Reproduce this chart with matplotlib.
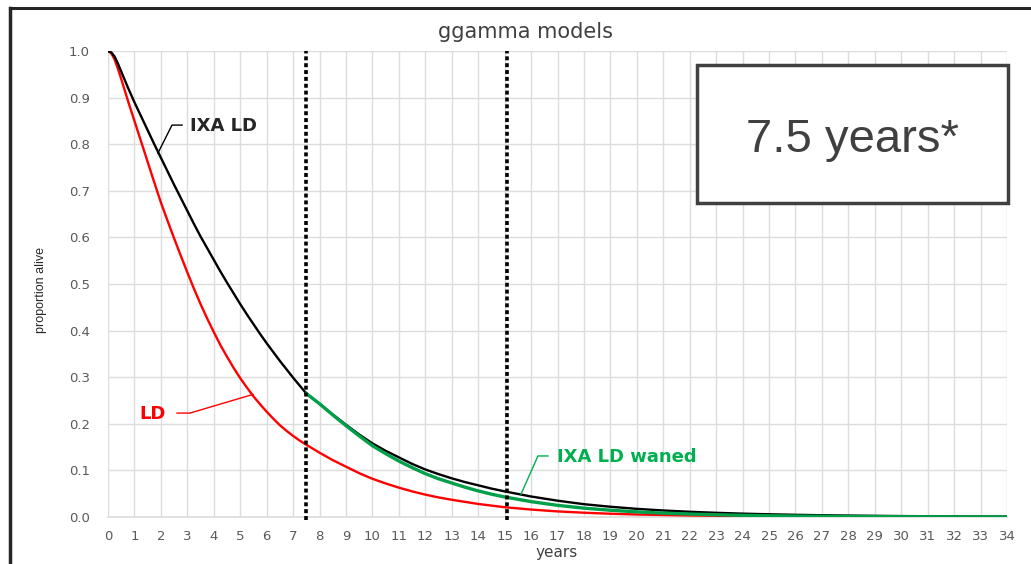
#!/usr/bin/env python3
"""ggamma survival models: LD vs IXA LD, with waning after 7.5 years."""

import matplotlib
matplotlib.use('Agg')
import matplotlib.pyplot as plt
from matplotlib.lines import Line2D
from matplotlib.patches import Rectangle

# --- data ------------------------------------------------------------------
ixa_years = [0, 0.125, 0.25, 0.375, 0.5, 0.75, 1, 1.25, 1.5, 1.75, 2, 2.25,
             2.5, 2.75, 3, 3.25, 3.5, 3.75, 4, 4.25, 4.5, 4.75, 5, 5.25, 5.5,
             5.75, 6, 6.25, 6.5, 6.75, 7, 7.25, 7.5,
             8, 8.5, 9, 9.5, 10, 10.5, 11, 11.5, 12, 12.5, 13, 13.5, 14, 14.5,
             15, 16, 17, 18, 19, 20, 21, 22, 23, 24, 25, 26, 27, 28, 29, 30,
             31, 32, 33, 34]
ixa_alive = [1.0, 0.997, 0.988, 0.973, 0.956, 0.922, 0.89, 0.86, 0.83, 0.8,
             0.771, 0.742, 0.713, 0.685, 0.657, 0.629, 0.602, 0.577, 0.552,
             0.527, 0.503, 0.48, 0.457, 0.435, 0.414, 0.393, 0.373, 0.354,
             0.335, 0.317, 0.299, 0.282, 0.265,
             0.243, 0.22, 0.198, 0.177, 0.158, 0.142, 0.128, 0.114, 0.102,
             0.092, 0.083, 0.075, 0.068, 0.061, 0.055, 0.044, 0.035, 0.0275,
             0.022, 0.0175, 0.014, 0.0112, 0.009, 0.0072, 0.0058, 0.0047,
             0.0038, 0.0031, 0.0025, 0.002, 0.0016, 0.0013, 0.001, 0.0008]

ld_years = [0, 0.125, 0.25, 0.375, 0.5, 0.75, 1, 1.25, 1.5, 1.75, 2, 2.25,
            2.5, 2.75, 3, 3.25, 3.5, 3.75, 4, 4.25, 4.5, 4.75, 5, 5.25, 5.5,
            5.75, 6, 6.25, 6.5, 6.75, 7, 7.25, 7.5,
            8, 8.5, 9, 9.5, 10, 10.5, 11, 11.5, 12, 12.5, 13, 14, 15, 16, 17,
            18, 19, 20, 22, 24, 26, 28, 30, 34]
ld_alive = [1.0, 0.995, 0.982, 0.962, 0.94, 0.894, 0.85, 0.806, 0.762, 0.718,
            0.675, 0.636, 0.598, 0.561, 0.525, 0.49, 0.457, 0.426, 0.397,
            0.369, 0.344, 0.32, 0.298, 0.278, 0.259, 0.242, 0.226, 0.211,
            0.197, 0.185, 0.174, 0.164, 0.155,
            0.138, 0.122, 0.108, 0.094, 0.082, 0.072, 0.063, 0.055, 0.048,
            0.042, 0.037, 0.028, 0.021, 0.016, 0.012, 0.0092, 0.007, 0.0054,
            0.0033, 0.002, 0.0012, 0.0007, 0.0004, 0.0002]

waned_years = [7.5, 8, 8.5, 9, 9.5, 10, 10.5, 11, 11.5, 12, 12.5, 13, 13.5,
               14, 14.5, 15, 16, 17, 18, 19, 20, 21, 22, 23, 24, 25, 26, 27,
               28, 30, 32, 34]
waned_alive = [0.265, 0.243, 0.219, 0.196, 0.174, 0.153, 0.136, 0.12, 0.106,
               0.093, 0.082, 0.073, 0.064, 0.056, 0.049, 0.043, 0.033, 0.025,
               0.019, 0.0145, 0.011, 0.0083, 0.0063, 0.0048, 0.0036, 0.0027,
               0.002, 0.0015, 0.0011, 0.0006, 0.0003, 0.0002]

divider_years = [7.5, 15.1]
x_ticks = list(range(0, 35))
y_ticks = [0.0, 0.1, 0.2, 0.3, 0.4, 0.5, 0.6, 0.7, 0.8, 0.9, 1.0]

RED = '#ff0000'
GREEN_LINE = '#00a04a'
GREEN_TEXT = '#00b050'
GREY_TEXT = '#404040'
TICK_TEXT = '#595959'
GRID = '#dcdcdc'

W, H = 1031, 564
fig = plt.figure(figsize=(W / 100, H / 100), dpi=100)
fig.patch.set_facecolor('white')

# slide frame (left and top edges)
fig.add_artist(Line2D([9.5 / W, 9.5 / W], [0, 1 - 7.5 / H], color='#262626', lw=2.5))
fig.add_artist(Line2D([9.5 / W, 1], [1 - 7.5 / H, 1 - 7.5 / H], color='#262626', lw=2.2))

ax = fig.add_axes([108 / W, 1 - 517 / H, 899 / W, 466 / H])
ax.set_xlim(0, 34)
ax.set_ylim(0, 1.0)

ax.set_xticks(x_ticks)
ax.set_xticklabels([str(t) for t in x_ticks])
ax.set_yticks(y_ticks)
ax.set_yticklabels([f'{t:.1f}' for t in y_ticks])
ax.tick_params(axis='both', length=0, labelsize=9.5, labelcolor=TICK_TEXT)
ax.tick_params(axis='x', pad=9)
ax.tick_params(axis='y', pad=13)
ax.grid(True, color=GRID, lw=1)
ax.set_axisbelow(True)
for side in ('top', 'right', 'left'):
    ax.spines[side].set_visible(False)
ax.spines['bottom'].set_color(GRID)
ax.spines['bottom'].set_linewidth(1.2)

# curves
ax.plot(ld_years, ld_alive, color=RED, lw=1.7, zorder=3)
ax.plot(ixa_years, ixa_alive, color='black', lw=1.7, zorder=4)
ax.plot(waned_years, waned_alive, color=GREEN_LINE, lw=2.4, zorder=5)

# dotted dividers
for xv in divider_years:
    ax.plot([xv, xv], [-0.006, 1.0], color='black', lw=2.6,
            linestyle=(0, (1.1, 0.8)), zorder=6, clip_on=False)

# labels with leader lines
ax.plot([2.80, 2.42, 1.89], [0.841, 0.841, 0.781], color='black', lw=1.0, zorder=7)
ax.text(3.1, 0.839, 'IXA LD', color='#262626', fontsize=13, fontweight='bold',
        va='center', ha='left', zorder=7)

ax.plot([2.61, 3.10, 5.48], [0.223, 0.223, 0.263], color=RED, lw=1.0, zorder=7)
ax.text(1.17, 0.221, 'LD', color=RED, fontsize=13, fontweight='bold',
        va='center', ha='left', zorder=7)

ax.plot([16.64, 16.26, 15.62], [0.131, 0.131, 0.049], color=GREEN_TEXT, lw=1.0, zorder=7)
ax.text(16.98, 0.129, 'IXA LD waned', color=GREEN_TEXT, fontsize=13,
        fontweight='bold', va='center', ha='left', zorder=7)

# titles
fig.text(525.5 / W, 1 - 32 / H, 'ggamma models', ha='center', va='center',
         fontsize=15, color=GREY_TEXT)
fig.text(557 / W, 1 - 552 / H, 'years', ha='center', va='center',
         fontsize=11, color=GREY_TEXT)
fig.text(41 / W, 1 - 290 / H, 'proportion alive', ha='center', va='center',
         rotation=90, fontsize=9, color='#262626',
         family=['Liberation Sans', 'DejaVu Sans'])

# call-out box
fig.add_artist(Rectangle((697 / W, 1 - 203 / H), 311 / W, 138 / H,
                         facecolor='white', edgecolor=GREY_TEXT, lw=2.5,
                         zorder=10))
fig.text(852 / W, 1 - 152 / H, '7.5 years*', ha='center', va='baseline',
         fontsize=34, color=GREY_TEXT, family=['Liberation Sans', 'DejaVu Sans'],
         zorder=11)

fig.savefig('out.png', dpi=100)
